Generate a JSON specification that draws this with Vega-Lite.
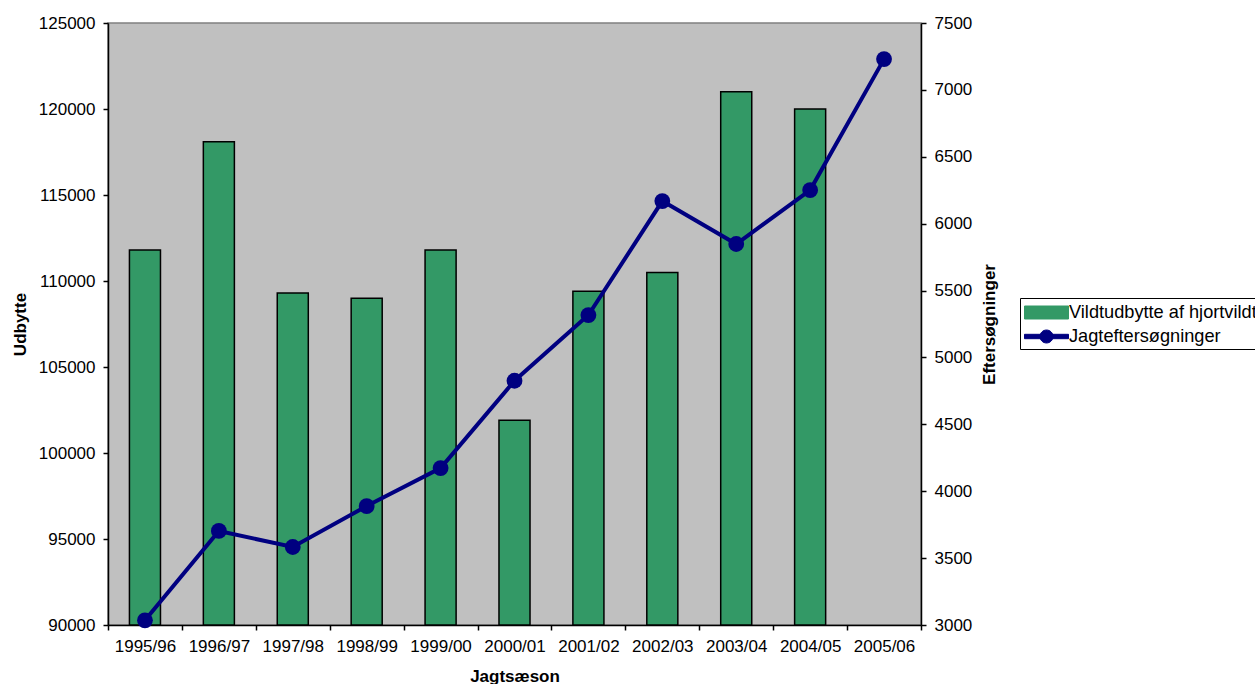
{
  "$schema": "https://vega.github.io/schema/vega-lite/v6.json",
  "width": 813,
  "height": 602,
  "autosize": "none",
  "padding": {"left": 108, "top": 23, "right": 334, "bottom": 59},
  "background": "white",
  "config": {
    "view": {"fill": "#C0C0C0", "stroke": "#808080", "strokeWidth": 1.5},
    "font": "Liberation Sans",
    "axis": {
      "grid": false,
      "labelFont": "Liberation Sans",
      "labelFontSize": 17,
      "labelColor": "black",
      "titleFont": "Liberation Sans",
      "titleFontSize": 17,
      "titleFontWeight": "bold",
      "titleColor": "black",
      "domainColor": "black",
      "domainWidth": 1.5,
      "tickColor": "black",
      "tickWidth": 1.5,
      "tickSize": 5,
      "labelPadding": 8
    },
    "legend": {
      "labelFont": "Liberation Sans",
      "labelFontSize": 18.2,
      "labelColor": "black",
      "labelLimit": 500
    }
  },
  "data": {
    "values": [
      {"season": "1995/96", "udbytte": 111800, "efter": 3035},
      {"season": "1996/97", "udbytte": 118100, "efter": 3703},
      {"season": "1997/98", "udbytte": 109300, "efter": 3583},
      {"season": "1998/99", "udbytte": 109000, "efter": 3889},
      {"season": "1999/00", "udbytte": 111800, "efter": 4173},
      {"season": "2000/01", "udbytte": 101900, "efter": 4826},
      {"season": "2001/02", "udbytte": 109400, "efter": 5317},
      {"season": "2002/03", "udbytte": 110500, "efter": 6169},
      {"season": "2003/04", "udbytte": 121000, "efter": 5848},
      {"season": "2004/05", "udbytte": 120000, "efter": 6251},
      {"season": "2005/06", "udbytte": null, "efter": 7230}
    ]
  },
  "layer": [
    {
      "mark": {"type": "bar", "width": {"band": 0.42}, "stroke": "black", "strokeWidth": 1.5},
      "encoding": {
        "x": {
          "field": "season", "type": "nominal", "sort": null,
          "scale": {"paddingInner": 0, "paddingOuter": 0},
          "axis": {"title": "Jagtsæson", "labelAngle": 0, "tickBand": "extent", "titlePadding": 14}
        },
        "y": {
          "field": "udbytte", "type": "quantitative",
          "scale": {"domain": [90000, 125000], "zero": false, "nice": false},
          "axis": {"title": "Udbytte", "values": [90000, 95000, 100000, 105000, 110000, 115000, 120000, 125000], "format": "d", "titlePadding": 9}
        },
        "y2": {"datum": 90000},
        "color": {
          "datum": "Vildtudbytte af hjortvildt",
          "type": "nominal",
          "scale": {"domain": ["Vildtudbytte af hjortvildt", "Jagteftersøgninger"], "range": ["#339966", "#000080"]},
          "legend": {
            "title": null,
            "orient": "none",
            "legendX": 912,
            "legendY": 275,
            "direction": "vertical",
            "strokeColor": "black",
            "fillColor": "white",
            "padding": 4,
            "symbolSize": 400,
            "symbolOffset": 12,
            "labelOffset": 12,
            "rowPadding": 5,
            "symbolType": "M-2.2,-0.65H2.2V0.65H-2.2Z",
            "encode": {
              "symbols": {
                "update": {
                  "shape": {"signal": "datum.value === 'Jagteftersøgninger' ? 'M-2.2,-0.22H2.2V0.22H-2.2Z M0.65,0A0.65,0.65 0 1,1 -0.65,0A0.65,0.65 0 1,1 0.65,0Z' : 'M-2.2,-0.65H2.2V0.65H-2.2Z'"},
                  "fill": {"signal": "datum.value === 'Jagteftersøgninger' ? '#000080' : '#339966'"},
                  "stroke": {"signal": "datum.value === 'Jagteftersøgninger' ? '#000080' : 'black'"},
                  "strokeWidth": {"value": 1},
                  "opacity": {"value": 1},
                  "fillOpacity": {"value": 1}
                }
              }
            }
          }
        }
      }
    },
    {
      "mark": {"type": "line", "strokeWidth": 4, "point": {"filled": true, "size": 250, "opacity": 1}},
      "encoding": {
        "x": {"field": "season", "type": "nominal", "sort": null},
        "y": {
          "field": "efter", "type": "quantitative",
          "scale": {"domain": [3000, 7500], "zero": false, "nice": false},
          "axis": {"orient": "right", "title": "Eftersøgninger", "titleAngle": -90, "titleBaseline": "top", "values": [3000, 3500, 4000, 4500, 5000, 5500, 6000, 6500, 7000, 7500], "format": "d", "titlePadding": 10}
        },
        "color": {
          "datum": "Jagteftersøgninger", "type": "nominal",
          "legend": {
            "title": null,
            "orient": "none",
            "legendX": 912,
            "legendY": 275,
            "direction": "vertical",
            "strokeColor": "black",
            "fillColor": "white",
            "padding": 4,
            "symbolSize": 400,
            "symbolOffset": 12,
            "labelOffset": 12,
            "rowPadding": 5,
            "symbolType": "M-2.2,-0.65H2.2V0.65H-2.2Z",
            "encode": {
              "symbols": {
                "update": {
                  "shape": {"signal": "datum.value === 'Jagteftersøgninger' ? 'M-2.2,-0.22H2.2V0.22H-2.2Z M0.65,0A0.65,0.65 0 1,1 -0.65,0A0.65,0.65 0 1,1 0.65,0Z' : 'M-2.2,-0.65H2.2V0.65H-2.2Z'"},
                  "fill": {"signal": "datum.value === 'Jagteftersøgninger' ? '#000080' : '#339966'"},
                  "stroke": {"signal": "datum.value === 'Jagteftersøgninger' ? '#000080' : 'black'"},
                  "strokeWidth": {"value": 1},
                  "opacity": {"value": 1},
                  "fillOpacity": {"value": 1}
                }
              }
            }
          }
        }
      }
    }
  ],
  "resolve": {"scale": {"y": "independent"}}
}
